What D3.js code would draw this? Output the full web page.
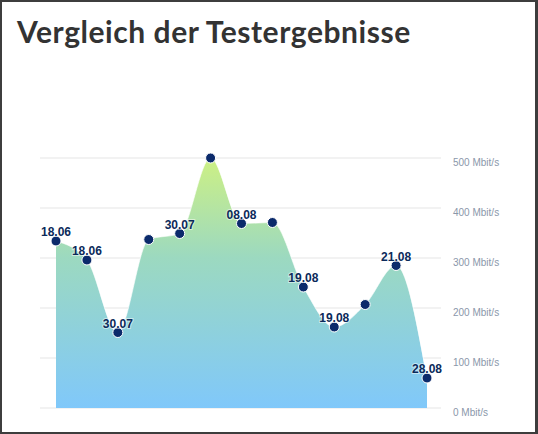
<!DOCTYPE html>
<html><head><meta charset="utf-8">
<script src="https://cdn.jsdelivr.net/npm/d3@7"></script>
<style>
html,body{margin:0;padding:0;background:#3d3d3d;}
svg{display:block;}
</style></head>
<body>
<svg id="chart" width="538" height="434"></svg>
<script>
const title = "Vergleich der Testergebnisse";
const values = [334, 296, 151, 337, 349, 500, 369, 371, 242, 162, 207, 285, 60];
const pointLabels = ["18.06", "18.06", "30.07", "", "30.07", "", "08.08", "", "19.08", "19.08", "", "21.08", "28.08"];
const yTicks = [0, 100, 200, 300, 400, 500];
const yUnit = " Mbit/s";

const svg = d3.select("#chart");
svg.append("rect").attr("x", 2).attr("y", 2).attr("width", 533).attr("height", 430).attr("fill", "#fff");

svg.append("text").attr("x", 17).attr("y", 43)
  .attr("font-family", "Lato, sans-serif").attr("font-weight", 700)
  .attr("font-size", 30).attr("letter-spacing", 0.55).attr("fill", "#333").text(title);

const x = d3.scaleLinear().domain([0, values.length - 1]).range([56, 427]);
const y = d3.scaleLinear().domain([0, 500]).range([408, 158]);

const defs = svg.append("defs");
const grad = defs.append("linearGradient").attr("id", "g").attr("gradientUnits", "userSpaceOnUse")
  .attr("x1", 0).attr("x2", 0).attr("y1", y(500)).attr("y2", y(0));
grad.append("stop").attr("offset", "0%").attr("stop-color", "#cdf084");
grad.append("stop").attr("offset", "40%").attr("stop-color", "#9cd9c0");
grad.append("stop").attr("offset", "100%").attr("stop-color", "#80c8fa");

// grid
svg.append("g").selectAll("line").data(yTicks).join("line")
  .attr("x1", 40).attr("x2", 441)
  .attr("y1", d => y(d)).attr("y2", d => y(d))
  .attr("stroke", "#eeeeee").attr("stroke-width", 1.5);

svg.append("g").selectAll("text").data(yTicks).join("text")
  .attr("x", 453).attr("y", d => y(d) + 8)
  .attr("font-family", "'Liberation Sans', Arial, sans-serif").attr("font-size", 10)
  .attr("fill", "#8a97aa").text(d => d + yUnit);

const area = d3.area().x((d, i) => x(i)).y0(y(0)).y1(d => y(d)).curve(d3.curveMonotoneX);
svg.append("path").datum(values).attr("d", area).attr("fill", "url(#g)");
const line = d3.line().x((d, i) => x(i)).y(d => y(d)).curve(d3.curveMonotoneX);
svg.append("path").datum(values).attr("d", line).attr("fill", "none")
  .attr("stroke", "#ffffff").attr("stroke-opacity", 0.6).attr("stroke-width", 1);

svg.append("g").selectAll("circle").data(values).join("circle")
  .attr("cx", (d, i) => x(i)).attr("cy", d => y(d)).attr("r", 5)
  .attr("fill", "#0b2a6b").attr("stroke", "#fff").attr("stroke-width", 1);

svg.append("g").selectAll("text").data(values).join("text")
  .attr("x", (d, i) => x(i)).attr("y", d => y(d) - 5)
  .attr("text-anchor", "middle")
  .attr("font-family", "'Liberation Sans', Arial, sans-serif").attr("font-weight", "bold")
  .attr("font-size", 12).attr("fill", "#0b2a5a")
  .attr("stroke", "#fff").attr("stroke-width", 2).attr("stroke-opacity", 0.5).attr("paint-order", "stroke")
  .text((d, i) => pointLabels[i]);
</script>
</body></html>
